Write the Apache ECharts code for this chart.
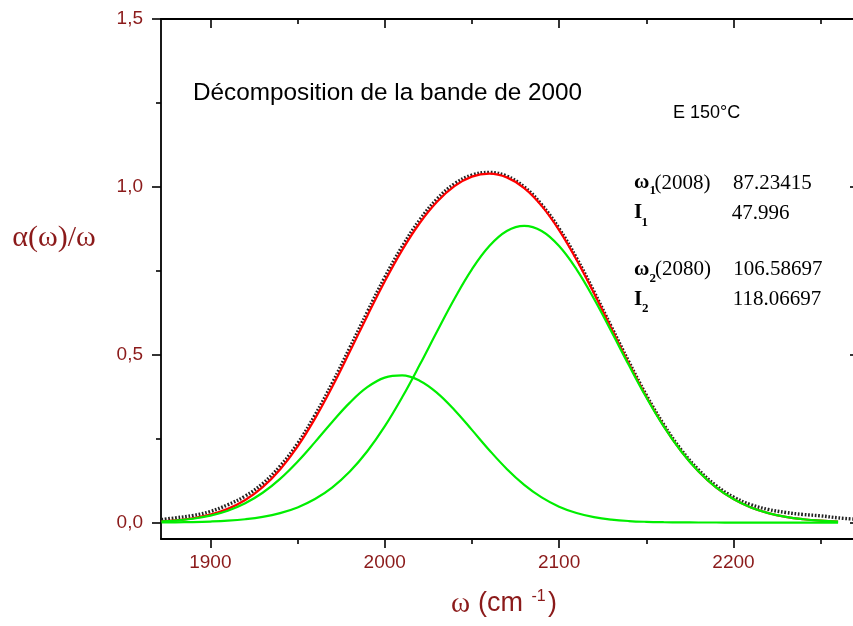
<!DOCTYPE html>
<html>
<head>
<meta charset="utf-8">
<script src="https://cdn.jsdelivr.net/npm/echarts@6/dist/echarts.min.js"></script>
<style>html,body{margin:0;padding:0;background:#fff}#c{width:853px;height:626px}</style>
</head>
<body>
<div id="c"></div>
<script>
// ---- data ----
const omega = [1872,1880,1890,1900,1910,1920,1930,1940,1950,1960,1970,1980,1990,2000,2010,2020,2030,2040,2050,2060,2070,2080,2090,2100,2110,2120,2130,2140,2150,2160,2170,2180,2190,2200,2210,2220,2230,2240,2250,2260];
const peak1 = [0.0034,0.0059,0.0113,0.0205,0.0352,0.0574,0.0887,0.1302,0.1813,0.2396,0.3003,0.3572,0.4031,0.4316,0.4384,0.4226,0.3865,0.3354,0.2761,0.2156,0.1598,0.1124,0.0750,0.0474,0.0285,0.0162,0.0088,0.0045,0.0022,0.0010,0.0004,0.0002,0.0001,0,0,0,0,0,0,0];
const peak2 = [0.0004,0.0008,0.0015,0.0030,0.0055,0.0098,0.0168,0.0281,0.0451,0.0701,0.1050,0.1520,0.2124,0.2864,0.3731,0.4690,0.5692,0.6668,0.7543,0.8237,0.8684,0.8838,0.8684,0.8237,0.7543,0.6668,0.5692,0.4690,0.3731,0.2864,0.2124,0.1520,0.1050,0.0701,0.0451,0.0281,0.0168,0.0098,0.0055,0.0030];
const fitTotal = [0.0038,0.0067,0.0128,0.0235,0.0407,0.0672,0.1055,0.1583,0.2264,0.3097,0.4053,0.5092,0.6155,0.7180,0.8115,0.8916,0.9557,1.0022,1.0304,1.0393,1.0282,0.9962,0.9434,0.8711,0.7828,0.6830,0.5780,0.4735,0.3753,0.2874,0.2128,0.1522,0.1051,0.0701,0.0451,0.0281,0.0168,0.0098,0.0055,0.0030];
const omegaExp = [1872,1880,1890,1900,1910,1920,1930,1940,1950,1960,1970,1980,1990,2000,2010,2020,2030,2040,2050,2060,2070,2080,2090,2100,2110,2120,2130,2140,2150,2160,2170,2180,2190,2200,2210,2220,2230,2240,2250,2260,2270];
const absorbance = [0.009,0.014,0.021,0.033,0.053,0.079,0.116,0.168,0.235,0.320,0.416,0.521,0.627,0.730,0.822,0.901,0.964,1.009,1.035,1.043,1.032,1.000,0.947,0.876,0.788,0.688,0.583,0.479,0.380,0.292,0.217,0.157,0.110,0.076,0.053,0.039,0.030,0.024,0.020,0.014,0.010];
const xMajorTicks = [1900,2000,2100,2200];
const xMinorTicks = [1950,2050,2150,2250];
const xTickLabels = ['1900','2000','2100','2200'];
const yMajorTicks = [0,0.5,1.0,1.5];
const yMinorTicks = [0.25,0.75,1.25];
const yTickLabels = ['0,0','0,5','1,0','1,5'];

const WINE = '#8b1a1a';
const X_MIN = 1871.7, X_MAX = 2272, Y_MIN = -0.049, Y_MAX = 1.5;

function labelFor(ticks, names) {
  return function (v) { const i = ticks.findIndex(t => Math.abs(t - v) < 1e-6); return i >= 0 ? names[i] : ''; };
}
function xAx(pos, ticks, len, inside, labels, line) {
  return {
    type: 'value', position: pos, min: X_MIN, max: X_MAX,
    axisLine: { show: line, onZero: false, lineStyle: { color: '#000', width: 1.8 } },
    axisTick: { show: true, inside: inside, length: len, customValues: ticks, lineStyle: { color: '#000', width: 1.6 } },
    axisLabel: labels ? { show: true, customValues: ticks, color: WINE, fontSize: 19, fontFamily: 'Arial, "Liberation Sans"', margin: 14,
      formatter: labelFor(xMajorTicks, xTickLabels) } : { show: false },
    splitLine: { show: false }
  };
}
function yAx(pos, ticks, len, inside, labels, line) {
  return {
    type: 'value', position: pos, min: Y_MIN, max: Y_MAX,
    axisLine: { show: line, onZero: false, lineStyle: { color: '#000', width: 1.8 } },
    axisTick: { show: true, inside: inside, length: len, customValues: ticks, lineStyle: { color: '#000', width: 1.6 } },
    axisLabel: labels ? { show: true, customValues: ticks, color: WINE, fontSize: 19, fontFamily: 'Arial, "Liberation Sans"', margin: 18,
      formatter: labelFor(yMajorTicks, yTickLabels) } : { show: false },
    splitLine: { show: false }
  };
}

function pairs(xs, ys) { return xs.map((x, i) => [x, ys[i]]); }

const SERIF = '"Liberation Serif", "Times New Roman", serif';
const SANS = '"Liberation Sans", Arial, sans-serif';
function T(x, y, text, font, color, align) {
  return { type: 'text', x: x, y: y, silent: true,
    style: { text: text, font: font, fill: color || '#000', textAlign: align || 'left', textVerticalAlign: 'middle' } };
}

const chart = echarts.init(document.getElementById('c'), null, { renderer: 'canvas' });
chart.setOption({
  animation: false,
  backgroundColor: '#fff',
  grid: { left: 161, top: 19, right: -6, bottom: 87, containLabel: false, outerBoundsMode: 'none' },
  xAxis: [
    xAx('bottom', xMajorTicks, 9, false, true, true),
    xAx('bottom', xMinorTicks, 5, false, false, false),
    xAx('top', xMajorTicks, 9, true, false, true),
    xAx('top', xMinorTicks, 5, true, false, false)
  ],
  yAxis: [
    yAx('left', yMajorTicks, 9, false, true, true),
    yAx('left', yMinorTicks, 5, false, false, false),
    yAx('right', yMajorTicks, 9, true, false, true),
    yAx('right', yMinorTicks, 5, true, false, false)
  ],
  series: [
    { name: 'data', type: 'line', smooth: 0.4, showSymbol: false, data: pairs(omegaExp, absorbance),
      lineStyle: { color: '#222', width: 3.4, type: [1.7, 1.7] }, z: 2 },
    { name: 'fit', type: 'line', smooth: 0.4, showSymbol: false, data: pairs(omega, fitTotal),
      lineStyle: { color: '#ff0000', width: 2.2 }, z: 3 },
    { name: 'peak1', type: 'line', smooth: 0.4, showSymbol: false, data: pairs(omega, peak1),
      lineStyle: { color: '#00ee00', width: 2.2 }, z: 4 },
    { name: 'peak2', type: 'line', smooth: 0.4, showSymbol: false, data: pairs(omega, peak2),
      lineStyle: { color: '#00ee00', width: 2.2 }, z: 4 }
  ],
  graphic: [
    T(193, 93.5, 'Décomposition de la bande de 2000', '24.3px ' + SANS),
    T(673, 113.5, 'E 150°C', '18px ' + SANS),
    // line 1
    T(634, 183, 'ω', 'bold 21px ' + SERIF),
    T(649.5, 190.6, '1', 'bold 13px ' + SERIF),
    T(654.5, 183, '(2008)', '21px ' + SERIF),
    T(733, 183, '87.23415', '21px ' + SERIF),
    // line 2
    T(634, 213, 'I', 'bold 21px ' + SERIF),
    T(641.5, 222.3, '1', 'bold 13px ' + SERIF),
    T(731.7, 213, '47.996', '21px ' + SERIF),
    // line 3
    T(634, 269.6, 'ω', 'bold 21px ' + SERIF),
    T(649.5, 278.6, '2', 'bold 13px ' + SERIF),
    T(655, 269.6, '(2080)', '21px ' + SERIF),
    T(733.3, 269.6, '106.58697', '21px ' + SERIF),
    // line 4
    T(634, 299.6, 'I', 'bold 21px ' + SERIF),
    T(642, 308.6, '2', 'bold 13px ' + SERIF),
    T(732.7, 299.6, '118.06697', '21px ' + SERIF),
    // axis names
    T(54, 238.6, 'α(ω)/ω', '30px ' + SERIF, WINE, 'center'),
    T(451, 604, 'ω', '29px ' + SERIF, WINE),
    T(478, 603.6, '(cm', '27px ' + SANS, WINE),
    T(531.5, 596.6, '-1', '16px ' + SANS, WINE),
    T(548, 603.6, ')', '27px ' + SANS, WINE)
  ]
});
</script>
</body>
</html>
